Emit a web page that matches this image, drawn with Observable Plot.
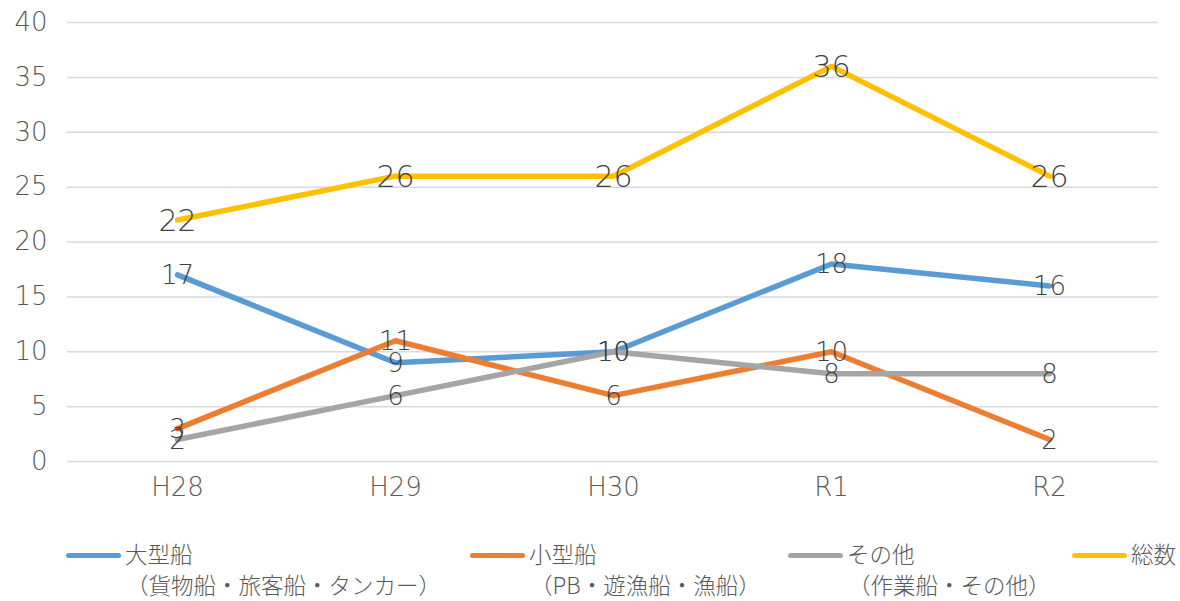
<!DOCTYPE html>
<html>
<head>
<meta charset="utf-8">
<script src="https://cdn.jsdelivr.net/npm/d3@7"></script>
<script src="https://cdn.jsdelivr.net/npm/@observablehq/plot@0.6"></script>
<style>
  body { margin: 0; background: #fff; font-family: "Noto Sans CJK JP", sans-serif; }
  #wrap { position: relative; width: 1180px; height: 601px; overflow: hidden; }
  .leg { position: absolute; color: #595959; font-size: 22.5px; line-height: 1; white-space: nowrap; font-family: "Noto Sans CJK JP", sans-serif; font-weight: 300; }
  .sw { position: absolute; height: 5px; border-radius: 3px; width: 55px; }
</style>
</head>
<body>
<div id="wrap"><div id="chart"></div></div>
<script>
const categories = ["H28", "H29", "H30", "R1", "R2"];
const seriesNames = ["大型船", "小型船", "その他", "総数"];
const seriesSub = ["（貨物船・旅客船・タンカー）", "（PB・遊漁船・漁船）", "（作業船・その他）", ""];
const large = [17, 9, 10, 18, 16];
const small = [3, 11, 6, 10, 2];
const other = [2, 6, 10, 8, 8];
const total = [22, 26, 26, 36, 26];
const colors = ["#5b9bd5", "#ed7d31", "#a5a5a5", "#ffc000"];
const yTicks = [0, 5, 10, 15, 20, 25, 30, 35, 40];

const allSeries = [large, small, other, total];
const rows = [];
allSeries.forEach((vals, si) => {
  vals.forEach((v, i) => rows.push({series: seriesNames[si], cat: categories[i], value: v, si}));
});
const totalRows = rows.filter(d => d.si === 3);
const otherRows = rows.filter(d => d.si !== 3);

const numFont = '"DejaVu Sans", sans-serif';

const chart = Plot.plot({
  width: 1180,
  height: 530,
  marginLeft: 67,
  marginRight: 22,
  marginTop: 22,
  marginBottom: 69,
  style: {fontFamily: numFont, background: "#fff"},
  x: {type: "point", domain: categories, padding: 0.5},
  y: {domain: [0, 40]},
  color: {domain: seriesNames, range: colors},
  marks: [
    Plot.gridY(yTicks, {stroke: "#d9d9d9", strokeOpacity: 1, strokeWidth: 1.5}),
    Plot.axisY(yTicks, {tickSize: 0, tickPadding: 20, fontSize: 26, fontWeight: 200, fill: "#595959", label: null}),
    Plot.axisX({tickSize: 0, tickPadding: 16, fontSize: 26, fontWeight: 200, fill: "#595959", label: null}),
    Plot.line(rows, {x: "cat", y: "value", z: "series", stroke: "series", strokeWidth: 5.5, strokeLinecap: "round", strokeLinejoin: "round"}),
    Plot.text(otherRows, {x: "cat", y: "value", text: d => String(d.value), fontSize: 26, fontWeight: 200, fill: "#404040", dy: 1}),
    Plot.text(totalRows, {x: "cat", y: "value", text: d => String(d.value), fontSize: 30, fontWeight: 200, fill: "#404040", dy: 1})
  ]
});
document.getElementById("chart").appendChild(chart);

// legend
const wrap = document.getElementById("wrap");
const legX = [66, 470, 788, 1072];
seriesNames.forEach((name, i) => {
  const sw = document.createElement("div");
  sw.className = "sw";
  sw.style.left = legX[i] + "px";
  sw.style.top = "553px";
  sw.style.background = colors[i];
  wrap.appendChild(sw);
  const t = document.createElement("div");
  t.className = "leg";
  t.style.left = (legX[i] + 59) + "px";
  t.style.top = "542px";
  t.textContent = name;
  wrap.appendChild(t);
  if (seriesSub[i]) {
    const s = document.createElement("div");
    s.className = "leg";
    s.style.left = (legX[i] + 60) + "px";
    s.style.top = "573px";
    s.textContent = seriesSub[i];
    wrap.appendChild(s);
  }
});
</script>
</body>
</html>
